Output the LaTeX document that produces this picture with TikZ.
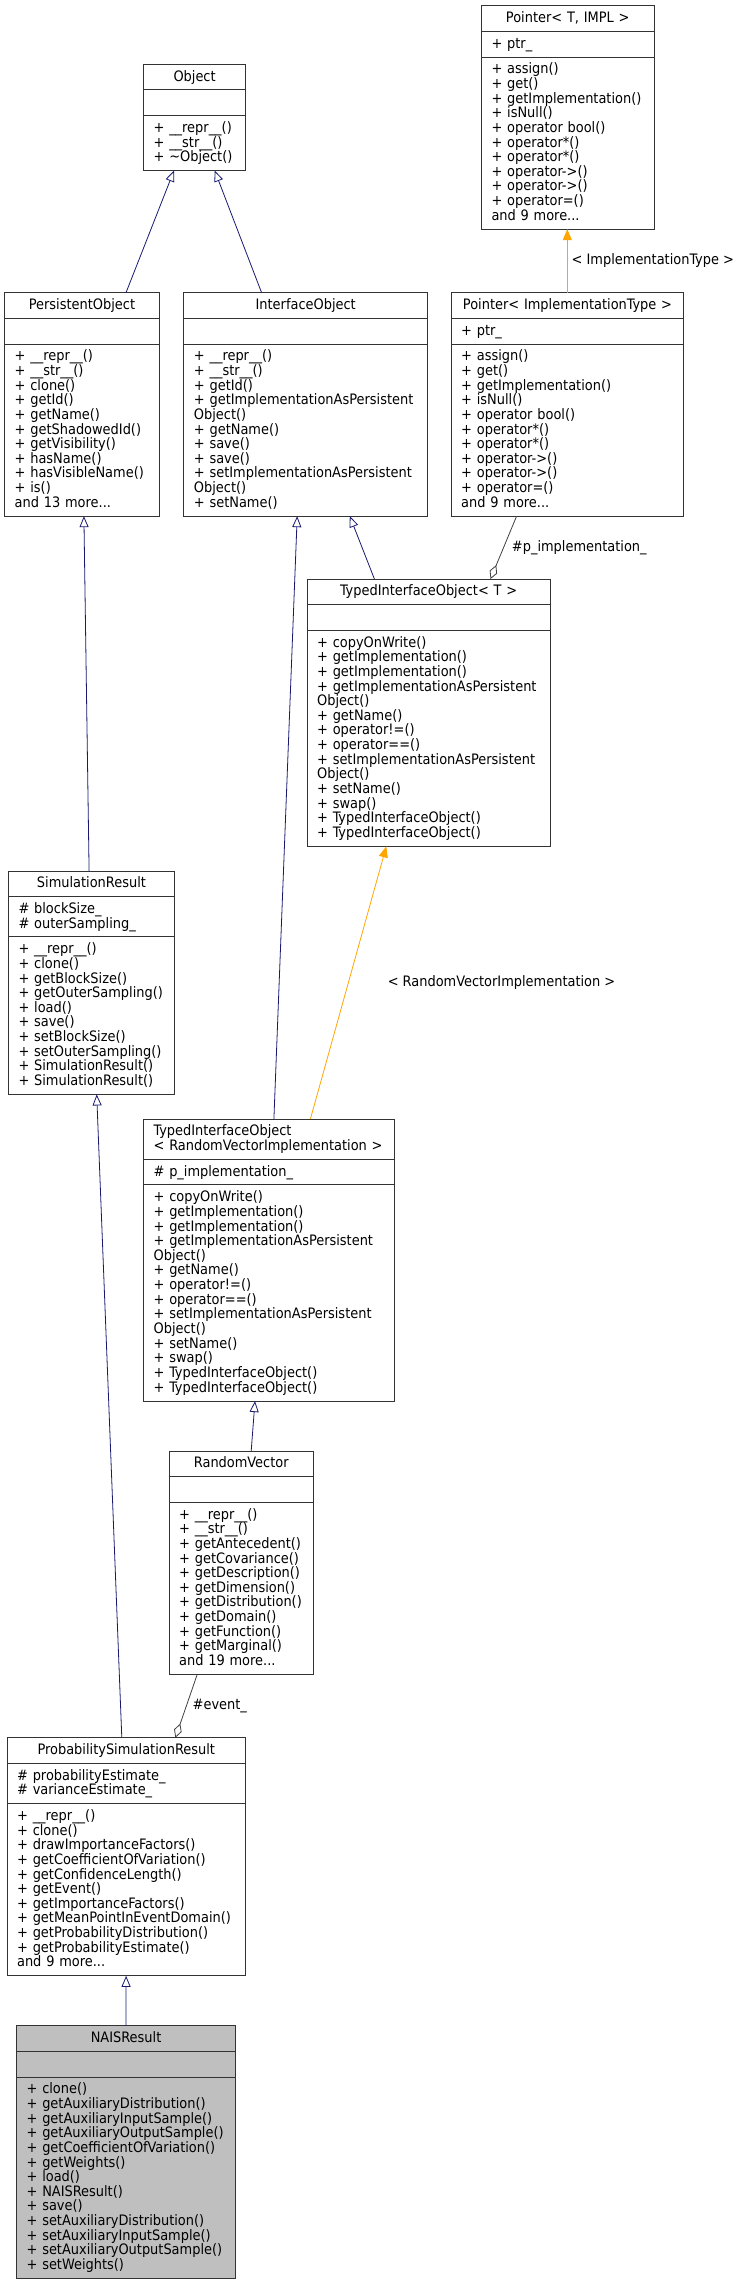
\documentclass[tikz,border=0pt]{standalone}
\usepackage{fontspec}
\setmainfont{DejaVu Sans Condensed}
\usetikzlibrary{arrows.meta,positioning}
\definecolor{edgeblue}{HTML}{191970}
\definecolor{edgeorange}{HTML}{FFA500}
\definecolor{edgegray}{HTML}{404040}
\definecolor{boxgray}{HTML}{BFBFBF}
\def \cf {\fontsize{14.4}{14.65}\selectfont\lineskiplimit=-20pt\hbadness=10000\hfuzz=20pt}
\def \st {\rule[-3.4pt]{0pt}{14.65pt}}
\tikzstyle{box} = [draw=black!80,line width=1pt,rectangle,fill=white,inner xsep=10pt,inner ysep=5.5pt,outer sep=0pt,font=\cf,execute at begin node=\st,execute at end node=\st]
\tikzstyle{ttl} = [box,align=center]
\tikzstyle{mem} = [box,align=left]
\tikzstyle{inh} = [draw=edgeblue,line width=0.8pt,-{Triangle[open,length=11pt,width=9pt]}]
\tikzstyle{tpl} = [draw=edgeorange,line width=0.8pt,-{Triangle[length=11pt,width=9pt]}]
\tikzstyle{agg} = [draw=edgegray,line width=0.8pt,-{Diamond[open,length=15pt,width=8pt]}]
\tikzstyle{lbl} = [font=\cf,inner sep=2pt,anchor=west]

\begin{document}
\begin{tikzpicture}[x=1pt,y=-1pt]
  \useasboundingbox (0,0) rectangle (741,2284);
  % Object
  \node[ttl,text width=82pt,anchor=north west] (obj-t) at (143.6,64.3) {Object};
  \node[mem,text width=82pt,below=0pt of obj-t] (obj-a) {};
  \node[mem,text width=82pt,below=0pt of obj-a] (obj-m) {+~\_\_repr\_\_()\\+~\_\_str\_\_()\\+~\textasciitilde Object()};
  % Pointer< T, IMPL >
  \node[ttl,text width=152.5pt,anchor=north west] (ptrti-t) at (481.5,5.7) {Pointer<~T,~IMPL~>};
  \node[mem,text width=152.5pt,below=0pt of ptrti-t] (ptrti-a) {+~ptr\_};
  \node[mem,text width=152.5pt,below=0pt of ptrti-a] (ptrti-m) {+~assign()\\+~get()\\+~getImplementation()\\+~isNull()\\+~operator~bool()\\+~operator*()\\+~operator*()\\+~operator->()\\+~operator->()\\+~operator=()\\and~9~more...};
  % PersistentObject
  \node[ttl,text width=134.5pt,anchor=north west] (pero-t) at (4.7,292.7) {PersistentObject};
  \node[mem,text width=134.5pt,below=0pt of pero-t] (pero-a) {};
  \node[mem,text width=134.5pt,below=0pt of pero-a] (pero-m) {+~\_\_repr\_\_()\\+~\_\_str\_\_()\\+~clone()\\+~getId()\\+~getName()\\+~getShadowedId()\\+~getVisibility()\\+~hasName()\\+~hasVisibleName()\\+~is()\\and~13~more...};
  % InterfaceObject
  \node[ttl,text width=223.6pt,anchor=north west] (ifo-t) at (183.9,292.7) {InterfaceObject};
  \node[mem,text width=223.6pt,below=0pt of ifo-t] (ifo-a) {};
  \node[mem,text width=223.6pt,below=0pt of ifo-a] (ifo-m) {+~\_\_repr\_\_()\\+~\_\_str\_\_()\\+~getId()\\+~getImplementationAsPersistent\\Object()\\+~getName()\\+~save()\\+~save()\\+~setImplementationAsPersistent\\Object()\\+~setName()};
  % Pointer< ImplementationType >
  \node[ttl,text width=212.7pt,anchor=north west] (ptri-t) at (451.2,292.7) {Pointer<~ImplementationType~>};
  \node[mem,text width=212.7pt,below=0pt of ptri-t] (ptri-a) {+~ptr\_};
  \node[mem,text width=212.7pt,below=0pt of ptri-a] (ptri-m) {+~assign()\\+~get()\\+~getImplementation()\\+~isNull()\\+~operator~bool()\\+~operator*()\\+~operator*()\\+~operator->()\\+~operator->()\\+~operator=()\\and~9~more...};
  % TypedInterfaceObject< T >
  \node[ttl,text width=223.1pt,anchor=north west] (tiot-t) at (307.1,579) {TypedInterfaceObject<~T~>};
  \node[mem,text width=223.1pt,below=0pt of tiot-t] (tiot-a) {};
  \node[mem,text width=223.1pt,below=0pt of tiot-a] (tiot-m) {+~copyOnWrite()\\+~getImplementation()\\+~getImplementation()\\+~getImplementationAsPersistent\\Object()\\+~getName()\\+~operator!=()\\+~operator==()\\+~setImplementationAsPersistent\\Object()\\+~setName()\\+~swap()\\+~TypedInterfaceObject()\\+~TypedInterfaceObject()};
  % SimulationResult
  \node[ttl,text width=145.9pt,anchor=north west] (simr-t) at (8.5,871) {SimulationResult};
  \node[mem,text width=145.9pt,below=0pt of simr-t] (simr-a) {\#~blockSize\_\\\#~outerSampling\_};
  \node[mem,text width=145.9pt,below=0pt of simr-a] (simr-m) {+~\_\_repr\_\_()\\+~clone()\\+~getBlockSize()\\+~getOuterSampling()\\+~load()\\+~save()\\+~setBlockSize()\\+~setOuterSampling()\\+~SimulationResult()\\+~SimulationResult()};
  % TypedInterfaceObject< RandomVectorImplementation >
  \node[mem,text width=231.2pt,anchor=north west] (tiorv-t) at (143.6,1119) {TypedInterfaceObject\\<~RandomVectorImplementation~>};
  \node[mem,text width=231.2pt,below=0pt of tiorv-t] (tiorv-a) {\#~p\_implementation\_};
  \node[mem,text width=231.2pt,below=0pt of tiorv-a] (tiorv-m) {+~copyOnWrite()\\+~getImplementation()\\+~getImplementation()\\+~getImplementationAsPersistent\\Object()\\+~getName()\\+~operator!=()\\+~operator==()\\+~setImplementationAsPersistent\\Object()\\+~setName()\\+~swap()\\+~TypedInterfaceObject()\\+~TypedInterfaceObject()};
  % RandomVector
  \node[ttl,text width=124.1pt,anchor=north west] (rvec-t) at (169.2,1451) {RandomVector};
  \node[mem,text width=124.1pt,below=0pt of rvec-t] (rvec-a) {};
  \node[mem,text width=124.1pt,below=0pt of rvec-a] (rvec-m) {+~\_\_repr\_\_()\\+~\_\_str\_\_()\\+~getAntecedent()\\+~getCovariance()\\+~getDescription()\\+~getDimension()\\+~getDistribution()\\+~getDomain()\\+~getFunction()\\+~getMarginal()\\and~19~more...};
  % ProbabilitySimulationResult
  \node[ttl,text width=218.4pt,anchor=north west] (psr-t) at (7.1,1737.7) {ProbabilitySimulationResult};
  \node[mem,text width=218.4pt,below=0pt of psr-t] (psr-a) {\#~probabilityEstimate\_\\\#~varianceEstimate\_};
  \node[mem,text width=218.4pt,below=0pt of psr-a] (psr-m) {+~\_\_repr\_\_()\\+~clone()\\+~drawImportanceFactors()\\+~getCoefficientOfVariation()\\+~getConfidenceLength()\\+~getEvent()\\+~getImportanceFactors()\\+~getMeanPointInEventDomain()\\+~getProbabilityDistribution()\\+~getProbabilityEstimate()\\and~9~more...};
  % NAISResult
  \node[ttl,fill=boxgray,text width=198.9pt,anchor=north west] (nais-t) at (16.6,2025.7) {NAISResult};
  \node[mem,fill=boxgray,text width=198.9pt,below=0pt of nais-t] (nais-a) {};
  \node[mem,fill=boxgray,text width=198.9pt,below=0pt of nais-a] (nais-m) {+~clone()\\+~getAuxiliaryDistribution()\\+~getAuxiliaryInputSample()\\+~getAuxiliaryOutputSample()\\+~getCoefficientOfVariation()\\+~getWeights()\\+~load()\\+~NAISResult()\\+~save()\\+~setAuxiliaryDistribution()\\+~setAuxiliaryInputSample()\\+~setAuxiliaryOutputSample()\\+~setWeights()};
  % edges
  \draw[inh] ([xshift=121.3pt]pero-t.north west) -- ([xshift=30.4pt]obj-m.south west);
  \draw[inh] ([xshift=77.7pt]ifo-t.north west) -- ([xshift=71.1pt]obj-m.south west);
  \draw[tpl] ([xshift=116.1pt]ptri-t.north west) -- ([xshift=85.8pt]ptrti-m.south west) node[lbl,midway,xshift=2pt] {< ImplementationType >};
  \draw[inh] ([xshift=80.6pt]simr-t.north west) -- ([xshift=79.2pt]pero-m.south west);
  \draw[inh] ([xshift=130.3pt]tiorv-t.north west) -- ([xshift=113.3pt]ifo-m.south west);
  \draw[inh] ([xshift=67.3pt]tiot-t.north west) -- ([xshift=165.9pt]ifo-m.south west);
  \draw[agg] ([xshift=65.4pt]ptri-m.south west) -- ([xshift=183.4pt]tiot-t.north west) node[lbl,midway,xshift=6pt] {\#p\_implementation\_};
  \draw[tpl] ([xshift=166.8pt]tiorv-t.north west) -- ([xshift=79.2pt]tiot-m.south west) node[lbl,midway,xshift=37pt] {< RandomVectorImplementation >};
  \draw[inh] ([xshift=114.7pt]psr-t.north west) -- ([xshift=88.2pt]simr-m.south west);
  \draw[inh] ([xshift=82pt]rvec-t.north west) -- ([xshift=111.4pt]tiorv-m.south west);
  \draw[agg] ([xshift=28pt]rvec-m.south west) -- ([xshift=168.3pt]psr-t.north west) node[lbl,midway,xshift=4pt] {\#event\_};
  \draw[inh] ([xshift=109.4pt]nais-t.north west) -- ([xshift=119pt]psr-m.south west);
\end{tikzpicture}
\end{document}
